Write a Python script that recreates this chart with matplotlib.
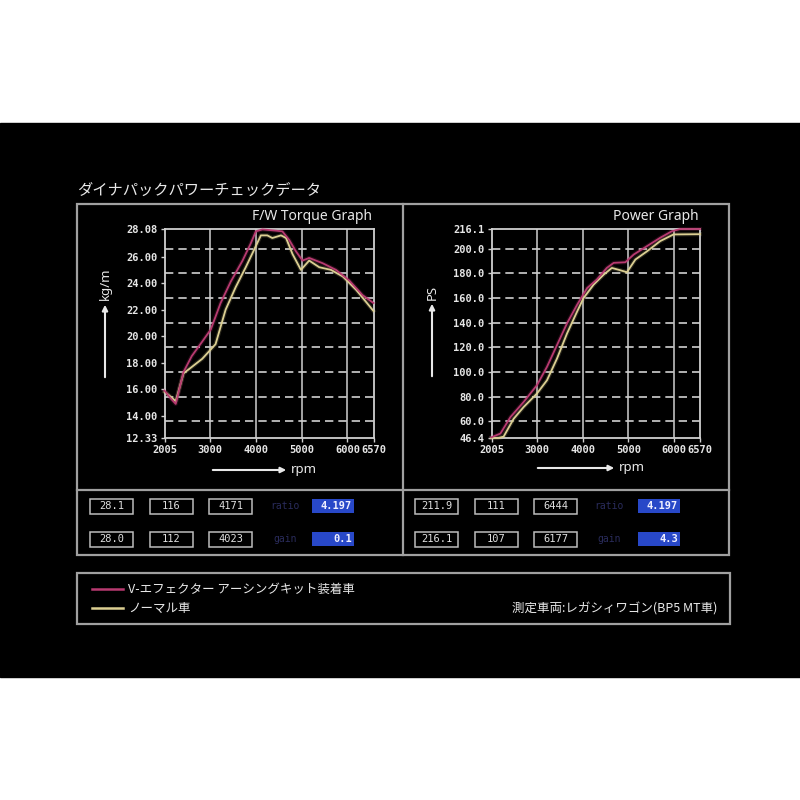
import matplotlib
matplotlib.use("Agg")
import matplotlib.pyplot as plt
from matplotlib.patches import Rectangle

plt.rcParams['font.family'] = ['Noto Sans CJK JP', 'DejaVu Sans']

# torque curves (kg/m)
tuned_tq_rpm = [2005, 2120, 2250, 2420, 2600, 2830, 3015, 3230, 3450, 3710, 3890, 4000,
                4145, 4300, 4450, 4580, 4730, 4875, 5020, 5165, 5460, 5750, 6040, 6330, 6570]
tuned_tq = [15.9, 15.4, 14.9, 17.3, 18.5, 19.6, 20.5, 22.5, 24.1, 25.7, 27.0, 27.9,
            28.05, 28.0, 27.95, 27.9, 27.25, 26.4, 25.7, 25.9, 25.5, 25.0, 24.2, 23.1, 22.5]
normal_tq_rpm = [2005, 2120, 2250, 2420, 2570, 2830, 3015, 3120, 3340, 3560, 3780, 3960,
                 4110, 4250, 4360, 4550, 4660, 4800, 4985, 5165, 5385, 5640, 5900, 6190, 6570]
normal_tq = [15.8, 15.5, 15.1, 17.2, 17.6, 18.3, 19.0, 19.4, 22.0, 23.7, 25.2, 26.5,
             27.6, 27.6, 27.4, 27.6, 27.4, 26.2, 25.0, 25.7, 25.2, 25.0, 24.5, 23.5, 21.9]

# power curves (PS)
tuned_ps_rpm = [2005, 2200, 2420, 2710, 3000, 3220, 3440, 3660, 3880, 4100, 4310, 4530,
                4680, 4935, 5120, 5410, 5700, 5960, 6140, 6570]
tuned_ps = [47.0, 50.0, 63.4, 75.7, 89.3, 104.2, 121.9, 139.6, 154.6, 168.2, 175.0, 184.5,
            188.6, 189.1, 195.4, 202.2, 209.0, 214.4, 216.1, 216.1]
normal_ps_rpm = [2005, 2150, 2270, 2490, 2710, 3000, 3220, 3440, 3660, 3880, 4020, 4240,
                 4460, 4640, 4825, 4970, 5155, 5410, 5700, 5990, 6570]
normal_ps = [46.4, 46.4, 47.5, 62.0, 71.6, 82.5, 93.3, 111.0, 131.4, 149.1, 160.0, 170.9,
             179.0, 184.5, 182.6, 181.0, 191.3, 198.0, 206.3, 211.7, 211.9]

x_ticks = [2005, 3000, 4000, 5000, 6000, 6570]
tq_ticks = [12.33, 14, 16, 18, 20, 22, 24, 26, 28.08]
tq_labels = ['12.33', '14.00', '16.00', '18.00', '20.00', '22.00', '24.00', '26.00', '28.08']
ps_ticks = [46.4, 60, 80, 100, 120, 140, 160, 180, 200, 216.1]
ps_labels = ['46.4', '60.0', '80.0', '100.0', '120.0', '140.0', '160.0', '180.0', '200.0', '216.1']

# readout boxes
tq_row1 = ['28.1', '116', '4171']
tq_row2 = ['28.0', '112', '4023']
ps_row1 = ['211.9', '111', '6444']
ps_row2 = ['216.1', '107', '6177']
tq_ratio, tq_gain = '4.197', '0.1'
ps_ratio, ps_gain = '4.197', '4.3'

legend_labels = ['V-エフェクター アーシングキット装着車', 'ノーマル車']
vehicle_note = '測定車両:レガシィワゴン(BP5 MT車)'

RED = '#b83a70'
YELLOW = '#dccf92'
GRID = '#d0d0d0'
FRAME = '#a0a0a0'
MONO = 'DejaVu Sans Mono'

fig = plt.figure(figsize=(8, 8), dpi=100)
fig.patch.set_facecolor('white')

# full-figure overlay in pixel coordinates for decorations
bg = fig.add_axes([0, 0, 1, 1])
bg.set_xlim(0, 800)
bg.set_ylim(800, 0)
bg.axis('off')
bg.add_patch(Rectangle((0, 123), 800, 554, color='black', zorder=0))

# outer frame and dividers
bg.add_patch(Rectangle((77, 204), 652, 351, fill=False, ec=FRAME, lw=1.6, zorder=1))
bg.plot([77, 729], [490, 490], color=FRAME, lw=1.6)
bg.plot([403, 403], [204, 555], color=FRAME, lw=1.6)
bg.add_patch(Rectangle((77, 573), 653, 51, fill=False, ec=FRAME, lw=1.6, zorder=1))

bg.text(77, 190, 'ダイナパックパワーチェックデータ', color='#e8e8e8', fontsize=11,
        ha='left', va='center')


def px_rect(x0, y0, x1, y1):
    return [x0 / 800, 1 - y1 / 800, (x1 - x0) / 800, (y1 - y0) / 800]


def style_axes(ax, yticks, ylabels, ylim, grid_vals):
    ax.set_facecolor('black')
    ax.set_xlim(2005, 6570)
    ax.set_ylim(*ylim)
    ax.set_xticks(x_ticks)
    ax.set_xticklabels([str(v) for v in x_ticks])
    ax.set_yticks(yticks)
    ax.set_yticklabels(ylabels)
    for s in ax.spines.values():
        s.set_color(GRID)
        s.set_linewidth(1.3)
    ax.tick_params(colors=GRID, length=3, width=1, pad=2)
    for lab in ax.get_xticklabels() + ax.get_yticklabels():
        lab.set_family(MONO)
        lab.set_fontsize(7.5)
        lab.set_fontweight('bold')
        lab.set_color('#e6e6e6')
    for v in [3000, 4000, 5000, 6000]:
        ax.axvline(v, color=GRID, lw=1.1, zorder=1)
    for v in grid_vals:
        ax.axhline(v, color=GRID, lw=1.2, dashes=(5, 3), zorder=1)


def draw_curve(ax, x, y, color):
    ax.plot(x, y, color=color, lw=3, alpha=0.18, zorder=2, clip_on=False,
            solid_joinstyle='round')
    ax.plot(x, y, color=color, lw=1.3, zorder=3, clip_on=False,
            solid_joinstyle='round')


ps_grid = [60, 80, 100, 120, 140, 160, 180, 200]
ps_lim = (46.4, 216.1)
tq_lim = (12.33, 28.08)
tq_grid = [tq_lim[0] + (p - ps_lim[0]) / (ps_lim[1] - ps_lim[0]) * (tq_lim[1] - tq_lim[0])
           for p in ps_grid]

ax1 = fig.add_axes(px_rect(164.5, 229, 373.5, 438))
style_axes(ax1, tq_ticks, tq_labels, tq_lim, tq_grid)
draw_curve(ax1, normal_tq_rpm, normal_tq, YELLOW)
draw_curve(ax1, tuned_tq_rpm, tuned_tq, RED)

ax2 = fig.add_axes(px_rect(491.5, 229, 700, 438))
style_axes(ax2, ps_ticks, ps_labels, ps_lim, ps_grid)
draw_curve(ax2, normal_ps_rpm, normal_ps, YELLOW)
draw_curve(ax2, tuned_ps_rpm, tuned_ps, RED)

bg.text(372, 216, 'F/W Torque Graph', color='#e8e8e8', fontsize=10, ha='right',
        va='center', family=['Noto Sans', 'DejaVu Sans'])
bg.text(699, 216, 'Power Graph', color='#e8e8e8', fontsize=10, ha='right',
        va='center', family=['Noto Sans', 'DejaVu Sans'])

# axis labels with arrows
arrow = dict(arrowstyle='-|>', color='#e8e8e8', lw=1.5, mutation_scale=8)
bg.annotate('', xy=(105, 302), xytext=(105, 380), arrowprops=arrow)
bg.text(105, 284, 'kg/m', color='#e8e8e8', fontsize=9.5, fontweight='bold',
        rotation=90, ha='center', va='center', family=['Noto Sans', 'DejaVu Sans'])
bg.annotate('', xy=(432, 301), xytext=(432, 379), arrowprops=arrow)
bg.text(432, 292, 'PS', color='#e8e8e8', fontsize=9.5, fontweight='bold',
        rotation=90, ha='center', va='center', family=['Noto Sans', 'DejaVu Sans'])
bg.annotate('', xy=(289, 470), xytext=(210, 470), arrowprops=arrow)
bg.text(291, 469, 'rpm', color='#e8e8e8', fontsize=9.5, ha='left', va='center',
        family=['Noto Sans', 'DejaVu Sans'])
bg.annotate('', xy=(617, 468), xytext=(535, 468), arrowprops=arrow)
bg.text(619, 467, 'rpm', color='#e8e8e8', fontsize=9.5, ha='left', va='center',
        family=['Noto Sans', 'DejaVu Sans'])


def readout(x_boxes, x_label, x_blue, y, values, label, blue_val):
    for x0, v in zip(x_boxes, values):
        bg.add_patch(Rectangle((x0, y - 7.5), 43, 15, fill=False, ec='#bdbdbd', lw=1.1))
        bg.text(x0 + 21.5, y, v, color='#e0e0e0', fontsize=7.5, family=MONO,
                ha='center', va='center')
    bg.text(x_label, y, label, color='#2a2c5c', fontsize=7, family=MONO,
            ha='center', va='center')
    bg.add_patch(Rectangle((x_blue, y - 7), 42, 14, color='#2848c8', lw=0))
    bg.text(x_blue + 40, y, blue_val, color='#f0f0ff', fontsize=7.5, family=MONO,
            fontweight='bold', ha='right', va='center')


readout([90, 150, 209], 285, 312, 506, tq_row1, 'ratio', tq_ratio)
readout([90, 150, 209], 285, 312, 539, tq_row2, 'gain', tq_gain)
readout([415, 475, 534], 609, 638, 506, ps_row1, 'ratio', ps_ratio)
readout([415, 475, 534], 609, 638, 539, ps_row2, 'gain', ps_gain)

# legend
bg.plot([92, 123], [589, 589], color=RED, lw=1.8)
bg.plot([92, 123], [608, 608], color=YELLOW, lw=1.8)
bg.text(128, 589, legend_labels[0], color='#e8e8e8', fontsize=9, ha='left', va='center')
bg.text(128, 608, legend_labels[1], color='#e8e8e8', fontsize=9, ha='left', va='center')
bg.text(717, 609, vehicle_note, color='#e8e8e8', fontsize=9, ha='right', va='center')

fig.savefig('out.png', dpi=100, facecolor=fig.get_facecolor())
